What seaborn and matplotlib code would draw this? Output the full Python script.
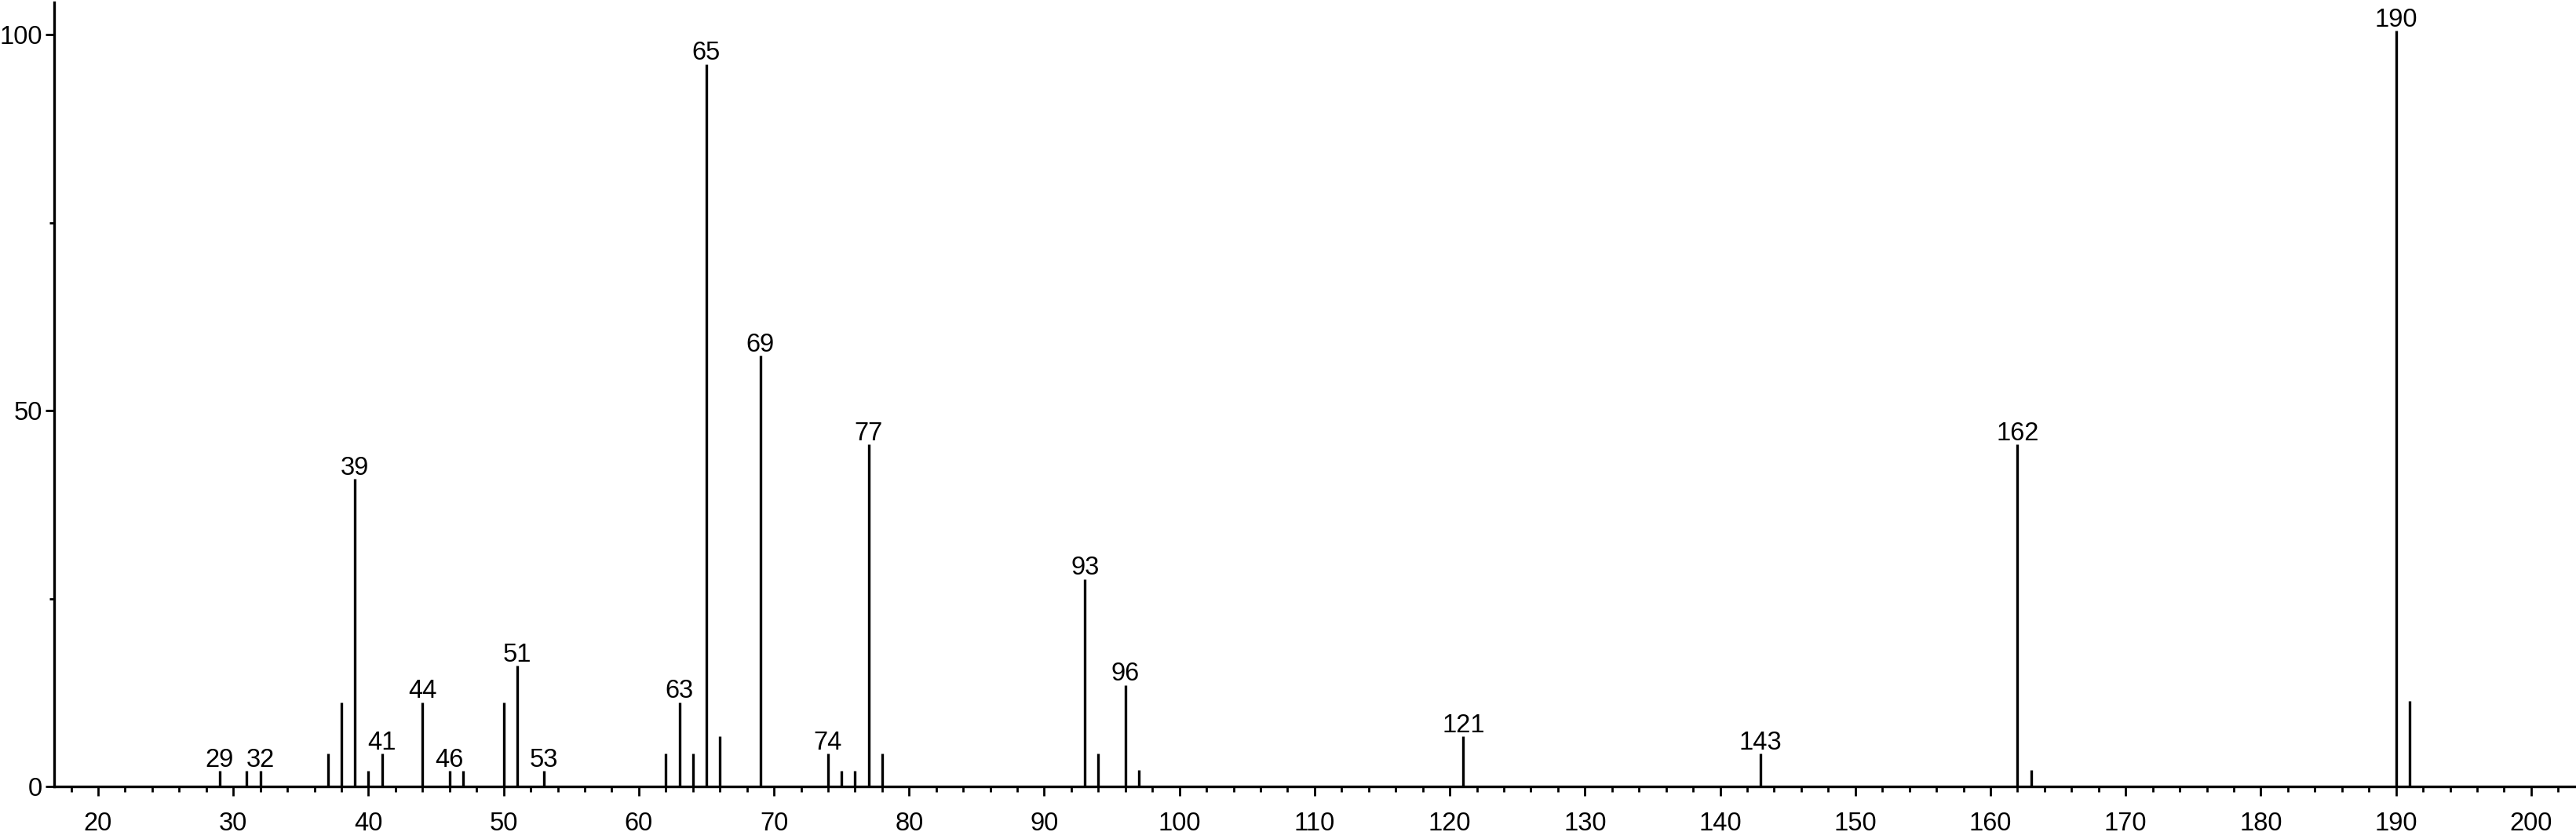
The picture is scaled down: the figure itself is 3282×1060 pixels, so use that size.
import numpy as np
import pandas as pd
import seaborn as sns
import matplotlib
matplotlib.use('Agg')
import matplotlib.pyplot as plt
from matplotlib.ticker import MultipleLocator, FixedLocator

# mass spectrum: m/z and relative intensity
mz = [29, 31, 32, 37, 38, 39, 40, 41, 44, 46, 47, 50, 51, 53,
      62, 63, 64, 65, 66, 69, 74, 75, 76, 77, 78,
      93, 94, 96, 97, 121, 143, 162, 163, 190, 191]
intensity = [2.1, 2.1, 2.1, 4.4, 11.2, 40.9, 2.1, 4.4, 11.2, 2.1, 2.1, 11.2, 16.1, 2.1,
             4.4, 11.2, 4.4, 96.1, 6.7, 57.3, 4.4, 2.1, 2.1, 45.5, 4.4,
             27.6, 4.4, 13.5, 2.2, 6.7, 4.4, 45.5, 2.2, 100.5, 11.4]
labelled = [29, 32, 39, 41, 44, 46, 51, 53, 63, 65, 69, 74, 77, 93, 96, 121, 143, 162, 190]

spec = pd.DataFrame({'mz': mz, 'intensity': intensity})

sns.set_theme(style="ticks")
plt.rcParams['font.family'] = ['Liberation Sans', 'DejaVu Sans']

fig = plt.figure(figsize=(32.82, 10.60), dpi=100)
ax = fig.add_axes([69 / 3282, 58 / 1060, 3211 / 3282, 999 / 1060])

ax.vlines(spec['mz'], 0, spec['intensity'], color='black', linewidth=2.4)

for _, row in spec[spec['mz'].isin(labelled)].iterrows():
    ax.annotate(str(int(row['mz'])), xy=(row['mz'], row['intensity']),
                xytext=(0, 3.8), textcoords='offset points',
                ha='center', va='baseline', fontsize=23.5, color='black')

ax.set_xlim(16.75, 203.2)
ax.set_ylim(0, 104.3)

ax.xaxis.set_major_locator(MultipleLocator(10))
ax.xaxis.set_minor_locator(MultipleLocator(2))
ax.yaxis.set_major_locator(FixedLocator([0, 50, 100]))
ax.yaxis.set_minor_locator(FixedLocator([25, 75]))
ax.set_xticks(range(20, 201, 10))

ax.tick_params(axis='both', which='major', labelsize=23.5, width=2.0, color='black',
               labelcolor='black', direction='out')
ax.tick_params(axis='x', which='major', length=8.5, pad=14.5)
ax.tick_params(axis='x', which='minor', length=5, width=2.0, color='black')
ax.tick_params(axis='y', which='major', length=8, pad=3)
ax.tick_params(axis='y', which='minor', length=4.5, width=2.0, color='black')

sns.despine(ax=ax)
for side in ['left', 'bottom']:
    ax.spines[side].set_linewidth(2.4)
    ax.spines[side].set_color('black')

ax.set_xlabel('')
ax.set_ylabel('')

fig.savefig('out.png', dpi=100)
